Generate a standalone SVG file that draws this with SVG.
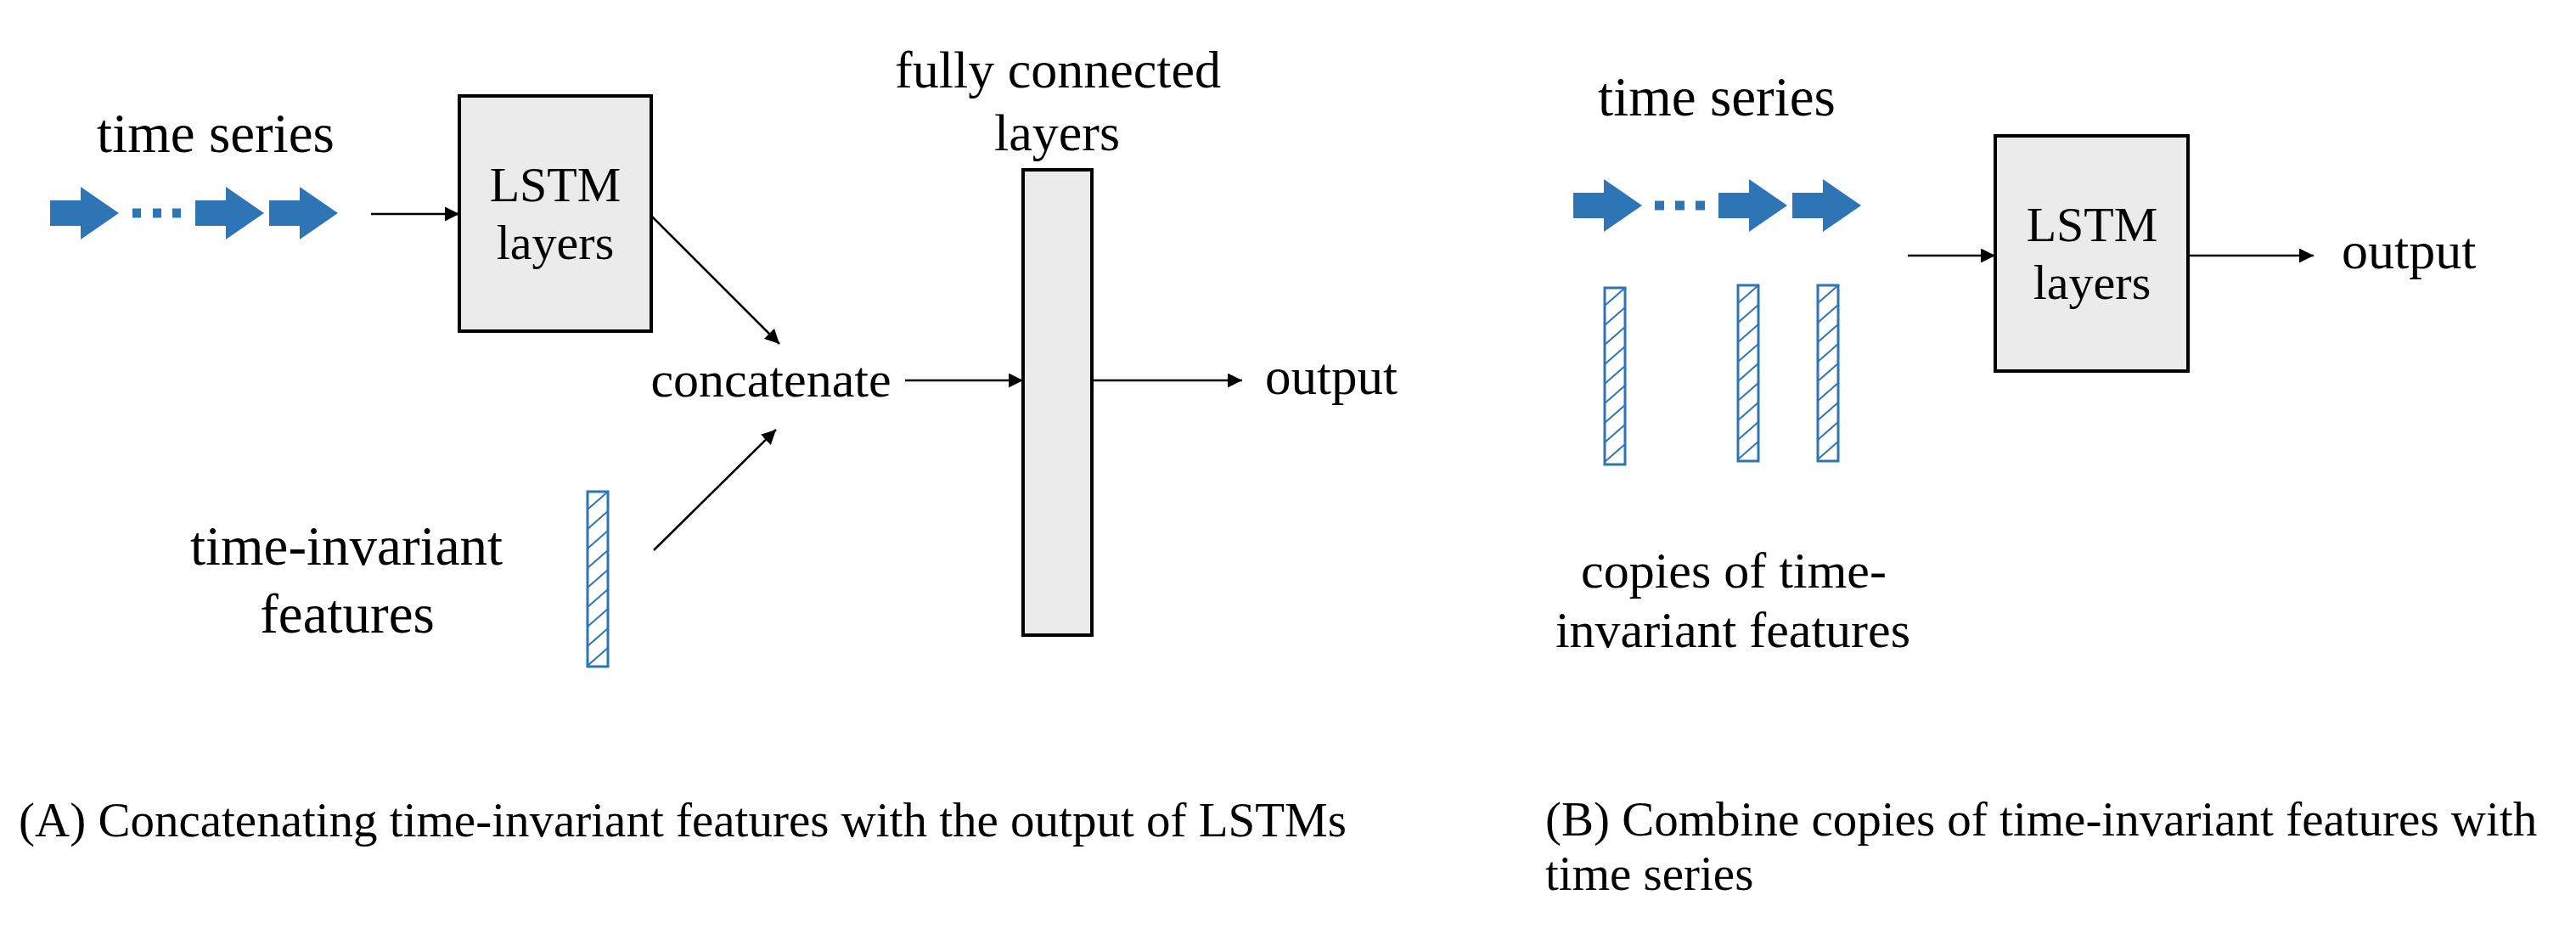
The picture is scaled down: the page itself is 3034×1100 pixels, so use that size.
<svg xmlns="http://www.w3.org/2000/svg" width="3034" height="1100" viewBox="0 0 3034 1100">
<style>
text{font-family:"Liberation Serif","Times New Roman",serif;fill:#000}
.box{fill:#EBEBEB;stroke:#000;stroke-width:4}
.bar{fill:#fff;stroke:#2E75B6;stroke-width:3}
.hatch{fill:none;stroke:#2E75B6;stroke-width:2}
.blue{fill:#2E75B6}
.conn{stroke:#000;stroke-width:2.5;fill:none;marker-end:url(#ah)}
</style>
<defs>
<marker id="ah" markerUnits="userSpaceOnUse" markerWidth="18" markerHeight="18" refX="17" refY="8.5" orient="auto">
<path d="M0,0 L17,8.5 L0,17 Z" fill="#000"/>
</marker>
<path id="barrow" d="M0,-15 H36 V-31 L81,0 L36,31 V15 H0 Z"/>
</defs>
<rect width="3034" height="1100" fill="#fff"/>

<!-- Panel A -->
<g id="ts-a">
<text x="254" y="179" font-size="65" text-anchor="middle">time series</text>
<use href="#barrow" class="blue" transform="translate(59,251)"/>
<rect class="blue" x="156" y="245.5" width="10" height="11"/>
<rect class="blue" x="180" y="245.5" width="10" height="11"/>
<rect class="blue" x="203" y="245.5" width="10" height="11"/>
<use href="#barrow" class="blue" transform="translate(230,251)"/>
<use href="#barrow" class="blue" transform="translate(317,251)"/>
</g>
<g id="lstm-a">
<rect class="box" x="541" y="113" width="226" height="277"/>
<text x="654" y="237" font-size="58" text-anchor="middle">LSTM</text>
<text x="654" y="305" font-size="58" text-anchor="middle">layers</text>
</g>
<g id="concat-a">
<text x="908" y="467" font-size="60" text-anchor="middle">concatenate</text>
</g>
<g id="fc-a">
<text x="1246" y="103" font-size="62" text-anchor="middle">fully connected</text>
<text x="1245" y="177" font-size="62" text-anchor="middle">layers</text>
<rect class="box" x="1205" y="200" width="81" height="548"/>
</g>
<g id="output-a">
<text x="1490" y="464" font-size="61">output</text>
</g>
<g id="tif-a">
<text x="408" y="665" font-size="65" text-anchor="middle">time-invariant</text>
<text x="409" y="745" font-size="65" text-anchor="middle">features</text>
<rect class="bar" x="692" y="579" width="24" height="206"/>
<path class="hatch" d="M692,600 L716,579 M692,623 L716,602 M692,646 L716,625 M692,669 L716,648 M692,692 L716,671 M692,715 L716,694 M692,738 L716,717 M692,761 L716,740 M692,784 L716,763"/>
</g>

<!-- Panel B -->
<g id="ts-b">
<text x="2022" y="136" font-size="65" text-anchor="middle">time series</text>
<use href="#barrow" class="blue" transform="translate(1853,242)"/>
<rect class="blue" x="1949" y="236.5" width="11" height="11"/>
<rect class="blue" x="1973" y="236.5" width="11" height="11"/>
<rect class="blue" x="1997" y="236.5" width="11" height="11"/>
<use href="#barrow" class="blue" transform="translate(2024,242)"/>
<use href="#barrow" class="blue" transform="translate(2111,242)"/>
</g>
<g id="copies-b">
<rect class="bar" x="1890" y="339" width="24" height="208"/>
<path class="hatch" d="M1890,360 L1914,339 M1890,383 L1914,362 M1890,406 L1914,385 M1890,429 L1914,408 M1890,452 L1914,431 M1890,475 L1914,454 M1890,498 L1914,477 M1890,521 L1914,500 M1890,544 L1914,523"/>
<rect class="bar" x="2047" y="336" width="24" height="207"/>
<path class="hatch" d="M2047,357 L2071,336 M2047,380 L2071,359 M2047,403 L2071,382 M2047,426 L2071,405 M2047,449 L2071,428 M2047,472 L2071,451 M2047,495 L2071,474 M2047,518 L2071,497 M2047,541 L2071,520"/>
<rect class="bar" x="2141" y="336" width="24" height="207"/>
<path class="hatch" d="M2141,357 L2165,336 M2141,380 L2165,359 M2141,403 L2165,382 M2141,426 L2165,405 M2141,449 L2165,428 M2141,472 L2165,451 M2141,495 L2165,474 M2141,518 L2165,497 M2141,541 L2165,520"/>
<text x="2042" y="692" font-size="60" text-anchor="middle">copies of time-</text>
<text x="2041" y="762" font-size="60" text-anchor="middle">invariant features</text>
</g>
<g id="lstm-b">
<rect class="box" x="2350" y="160" width="227" height="277"/>
<text x="2464" y="284" font-size="58" text-anchor="middle">LSTM</text>
<text x="2464" y="352" font-size="58" text-anchor="middle">layers</text>
</g>
<g id="output-b">
<text x="2758" y="316" font-size="62">output</text>
</g>

<!-- Captions -->
<g id="caption-a">
<text x="22" y="985" font-size="57">(A) Concatenating time-invariant features with the output of LSTMs</text>
</g>
<g id="caption-b">
<text x="1820" y="984" font-size="57">(B) Combine copies of time-invariant features with</text>
<text x="1820" y="1048" font-size="57">time series</text>
</g>

<!-- Connectors -->
<g id="connectors">
<line class="conn" x1="437" y1="252" x2="541" y2="252"/>
<line class="conn" x1="767" y1="254" x2="918" y2="405"/>
<line class="conn" x1="770" y1="648" x2="914" y2="506"/>
<line class="conn" x1="1066" y1="448" x2="1205" y2="448"/>
<line class="conn" x1="1288" y1="448" x2="1463" y2="448"/>
<line class="conn" x1="2247" y1="301" x2="2350" y2="301"/>
<line class="conn" x1="2577" y1="301" x2="2725" y2="301"/>
</g>
</svg>
